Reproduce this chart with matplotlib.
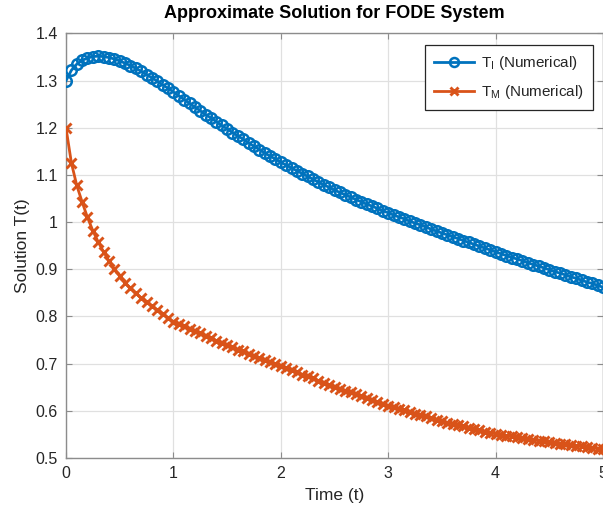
import numpy as np
import matplotlib
matplotlib.use("Agg")
import matplotlib.pyplot as plt

t = [round(0.05 * i, 2) for i in range(101)]

T_I = [1.300, 1.322, 1.335, 1.343, 1.348, 1.351, 1.352, 1.351, 1.349, 1.346,
       1.342, 1.337, 1.332, 1.326, 1.320, 1.313, 1.306, 1.299, 1.291, 1.284,
       1.276, 1.268, 1.260, 1.252, 1.244, 1.236, 1.228, 1.221, 1.213, 1.205,
       1.198, 1.190, 1.183, 1.176, 1.168, 1.161, 1.154, 1.147, 1.140, 1.134,
       1.127, 1.121, 1.115, 1.109, 1.103, 1.097, 1.091, 1.085, 1.079, 1.074,
       1.068, 1.063, 1.058, 1.053, 1.048, 1.043, 1.038, 1.034, 1.029, 1.024,
       1.020, 1.015, 1.011, 1.007, 1.002, 0.998, 0.994, 0.990, 0.985, 0.981,
       0.977, 0.973, 0.969, 0.965, 0.961, 0.957, 0.953, 0.949, 0.945, 0.941,
       0.937, 0.933, 0.929, 0.925, 0.922, 0.918, 0.914, 0.910, 0.907, 0.903,
       0.899, 0.895, 0.892, 0.888, 0.884, 0.881, 0.877, 0.873, 0.870, 0.866,
       0.862]

T_M = [1.200, 1.126, 1.078, 1.043, 1.010, 0.982, 0.958, 0.937, 0.918, 0.901,
       0.886, 0.872, 0.860, 0.849, 0.839, 0.830, 0.822, 0.814, 0.806, 0.797,
       0.789, 0.784, 0.779, 0.774, 0.769, 0.764, 0.759, 0.754, 0.749, 0.744,
       0.739, 0.735, 0.730, 0.726, 0.721, 0.717, 0.712, 0.708, 0.704, 0.699,
       0.695, 0.691, 0.686, 0.682, 0.677, 0.673, 0.669, 0.664, 0.660, 0.655,
       0.651, 0.647, 0.643, 0.639, 0.635, 0.631, 0.627, 0.623, 0.619, 0.615,
       0.611, 0.608, 0.604, 0.601, 0.598, 0.594, 0.591, 0.588, 0.585, 0.581,
       0.578, 0.575, 0.572, 0.570, 0.567, 0.564, 0.562, 0.559, 0.556, 0.554,
       0.551, 0.549, 0.547, 0.546, 0.544, 0.542, 0.540, 0.538, 0.537, 0.535,
       0.533, 0.532, 0.530, 0.529, 0.527, 0.526, 0.525, 0.523, 0.522, 0.520,
       0.519]

x_ticks = [0, 1, 2, 3, 4, 5]
y_ticks = [0.5, 0.6, 0.7, 0.8, 0.9, 1.0, 1.1, 1.2, 1.3, 1.4]
y_tick_labels = ["0.5", "0.6", "0.7", "0.8", "0.9", "1", "1.1", "1.2", "1.3", "1.4"]

plt.rcParams['font.family'] = ['Liberation Sans', 'DejaVu Sans']
plt.rcParams['mathtext.fontset'] = 'custom'
plt.rcParams['mathtext.rm'] = 'Liberation Sans'

W, H = 603, 511
fig = plt.figure(figsize=(W / 100, H / 100), dpi=100)
ax = fig.add_axes([66 / W, (H - 458) / H, (603 - 66) / W, (458 - 33.5) / H])

blue = '#0072BD'
orange = '#D95319'

ax.plot(t, T_I, color=blue, lw=2.0, marker='o', ms=7.6, mfc='none', mew=1.8,
        label=r'T$_\mathrm{I}$ (Numerical)', zorder=3)
ax.plot(t, T_M, color=orange, lw=2.0, marker='x', ms=6.5, mew=2.1,
        label=r'T$_\mathrm{M}$ (Numerical)', zorder=3)

ax.set_xlim(0, 5)
ax.set_ylim(0.5, 1.4)
ax.set_xticks(x_ticks)
ax.set_yticks(y_ticks)
ax.set_yticklabels(y_tick_labels)

ax.grid(True, color='#e0e0e0', lw=0.9)
ax.set_axisbelow(True)

for s in ax.spines.values():
    s.set_color('#8c8c8c')
    s.set_linewidth(1.0)

ax.tick_params(direction='in', length=4, width=0.8, colors='#8c8c8c',
               labelcolor='#262626', labelsize=11.5, top=True, right=True, pad=6)

ax.set_title('Approximate Solution for FODE System', fontsize=13,
             fontweight='bold', color='black', pad=11)
ax.set_xlabel('Time (t)', fontsize=12.5, color='#262626', labelpad=5)
ax.set_ylabel('Solution T(t)', fontsize=12.5, color='#262626', labelpad=4)

leg = ax.legend(loc='upper right', bbox_to_anchor=((593 - 66) / 537, (458 - 45) / 424.5),
                borderaxespad=0, fontsize=11, frameon=True, fancybox=False,
                handlelength=2.6, handletextpad=0.45, borderpad=0.6,
                labelspacing=0.7, markerscale=0.85)
leg.get_frame().set_edgecolor('#262626')
leg.get_frame().set_linewidth(0.9)
leg.get_frame().set_alpha(1)
for txt in leg.get_texts():
    txt.set_color('#262626')

fig.savefig('out.png', dpi=100)
